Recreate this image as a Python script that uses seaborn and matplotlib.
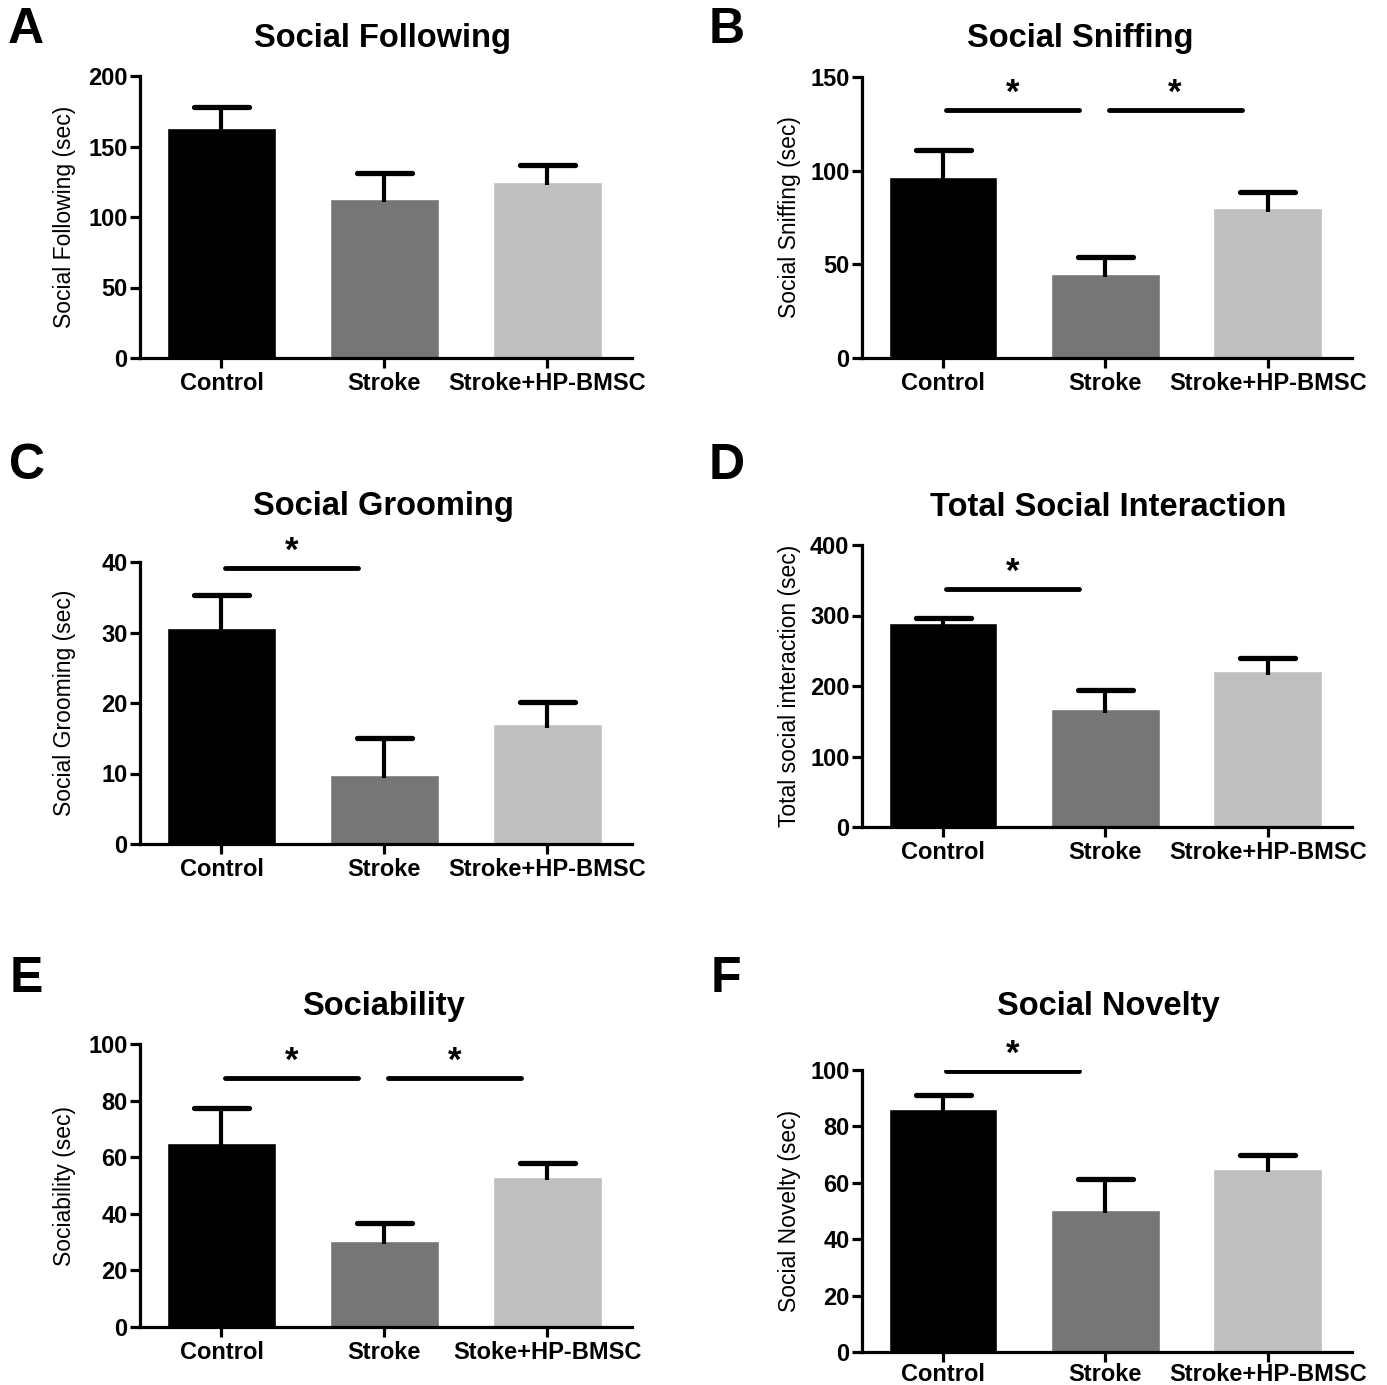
import numpy as np
import pandas as pd
import matplotlib
matplotlib.use("Agg")
import matplotlib.pyplot as plt
import seaborn as sns

sns.set_theme(style="ticks")
plt.rcParams['font.family'] = ['Liberation Sans', 'DejaVu Sans']
for k in ["text.color", "axes.labelcolor", "xtick.color", "ytick.color", "axes.edgecolor"]:
    plt.rcParams[k] = "black"

# ---- data ----
groups = ["Control", "Stroke", "Stroke+HP-BMSC"]
groups_e = ["Control", "Stroke", "Stoke+HP-BMSC"]
colors = ["#000000", "#767676", "#bfbfbf"]

following_mean = [163, 113, 125]
following_top = [178, 131, 137]
sniffing_mean = [96.5, 45, 80]
sniffing_top = [111, 54, 88.5]
grooming_mean = [30.7, 9.8, 17.0]
grooming_top = [35.3, 15.1, 20.1]
total_mean = [290, 167, 221]
total_top = [297, 194, 240]
sociability_mean = [65, 30.4, 53]
sociability_top = [77.5, 36.8, 57.8]
novelty_mean = [86.2, 50.4, 65]
novelty_top = [91, 61.2, 69.8]

# significance bars: (group i, group j, height)
sniffing_sig = [(0, 1, 132.5), (1, 2, 132.5)]
grooming_sig = [(0, 1, 39.1)]
total_sig = [(0, 1, 337)]
sociability_sig = [(0, 1, 88), (1, 2, 88)]
novelty_sig = [(0, 1, 99.5)]

W, H = 1387, 1385
fig = plt.figure(figsize=(W / 100, H / 100), dpi=100)


def px_axes(left, right, top, bottom):
    return fig.add_axes([left / W, 1 - bottom / H, (right - left) / W, (bottom - top) / H])


def panel(ax, labels, means, tops, ymax, step, ylabel, sigs, labx, xpad=3):
    df = pd.DataFrame({"group": labels, "value": means})
    sns.barplot(data=df, x="group", y="value", hue="group", palette=colors,
                width=0.67, errorbar=None, legend=False, ax=ax, saturation=1)
    xs = np.arange(3)
    # one-sided (upper) error bars
    ax.vlines(xs, np.array(means) - 0.012 * ymax, tops, color="black", lw=3, zorder=3)
    ax.hlines(tops, xs - 0.17, xs + 0.17, color="black", lw=3.8, zorder=3,
              capstyle="round")
    for i, j, y in sigs:
        x1, x2 = i + 0.02, j - 0.16
        ax.plot([x1, x2], [y, y], color="black", lw=3.5, solid_capstyle="round")
        ax.annotate("*", ((x1 + x2) / 2, y), xytext=(0, 12), textcoords="offset points",
                    ha="center", va="center", fontsize=25, fontweight="bold")
    ax.set_ylim(0, ymax)
    ax.set_xlim(-0.5, 2.52)
    ax.set_yticks(np.arange(0, ymax + 1, step))
    ax.set_xlabel("")
    ax.set_ylabel(ylabel, fontsize=16.5)
    ax.yaxis.set_label_coords(labx, 0.5)
    for s in ["top", "right"]:
        ax.spines[s].set_visible(False)
    for s in ["left", "bottom"]:
        ax.spines[s].set_linewidth(2.3)
    ax.tick_params(axis="both", width=2.3, length=7, labelsize=17)
    ax.tick_params(axis="y", pad=2)
    ax.tick_params(axis="x", pad=xpad)
    for t in ax.get_xticklabels() + ax.get_yticklabels():
        t.set_fontweight("bold")


axA = px_axes(140, 632, 76, 358)
axB = px_axes(862, 1352, 77, 358)
axC = px_axes(140, 632, 562, 844)
axD = px_axes(862, 1352, 545, 827)
axE = px_axes(140, 632, 1044, 1327)
axF = px_axes(862, 1352, 1070, 1352)

panel(axA, groups, following_mean, following_top, 200, 50, "Social Following (sec)", [], -0.130)
panel(axB, groups, sniffing_mean, sniffing_top, 150, 50, "Social Sniffing (sec)", sniffing_sig, -0.124)
panel(axC, groups, grooming_mean, grooming_top, 40, 10, "Social Grooming (sec)", grooming_sig, -0.130)
panel(axD, groups, total_mean, total_top, 400, 100, "Total social interaction (sec)", total_sig, -0.124)
panel(axE, groups_e, sociability_mean, sociability_top, 100, 20, "Sociability (sec)", sociability_sig, -0.130)
panel(axF, groups, novelty_mean, novelty_top, 100, 20, "Social Novelty (sec)", novelty_sig, -0.124, xpad=1)

titles = [("Social Following", 383, 38), ("Social Sniffing", 1080, 38),
          ("Social Grooming", 383, 507), ("Total Social Interaction", 1108, 507),
          ("Sociability", 383, 1007), ("Social Novelty", 1108, 1007)]
for txt, x, y in titles:
    fig.text(x / W, 1 - y / H, txt, ha="center", va="center", fontsize=23.5, fontweight="bold")

letters = [("A", 8, 30), ("B", 709, 30), ("C", 9, 466), ("D", 709, 466),
           ("E", 10, 979), ("F", 711, 979)]
for txt, x, y in letters:
    fig.text(x / W, 1 - y / H, txt, ha="left", va="center", fontsize=36, fontweight="bold")

fig.savefig("out.png", dpi=100, facecolor="white")
